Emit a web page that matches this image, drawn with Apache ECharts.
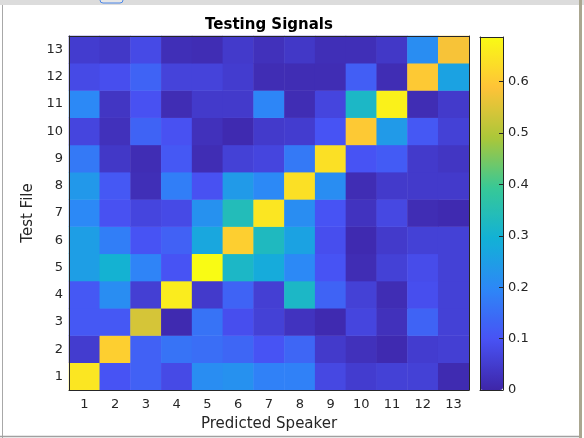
<!DOCTYPE html>
<html>
<head>
<meta charset="utf-8">
<script src="https://cdn.jsdelivr.net/npm/echarts@6/dist/echarts.min.js"></script>
<style>html,body{margin:0;padding:0;background:#fff;}#c{width:584px;height:438px;}</style>
</head>
<body>
<div id="c"></div>
<script>
// Predicted speaker (columns) and test file (rows)
const speakers = ['1','2','3','4','5','6','7','8','9','10','11','12','13'];
const testFiles = ['1','2','3','4','5','6','7','8','9','10','11','12','13'];
const colorbarTicks = [0, 0.1, 0.2, 0.3, 0.4, 0.5, 0.6];
const colorMin = 0;
const colorMax = 0.687;

// one array per test file, values for predicted speakers 1..13
const file1  = [0.65, 0.10, 0.125, 0.08, 0.21, 0.22, 0.185, 0.185, 0.075, 0.05, 0.06, 0.06, 0.012];
const file2  = [0.05, 0.61, 0.125, 0.16, 0.15, 0.135, 0.10, 0.135, 0.045, 0.025, 0.01, 0.05, 0.055];
const file3  = [0.11, 0.11, 0.54, 0.01, 0.16, 0.09, 0.06, 0.03, 0.01, 0.07, 0.025, 0.13, 0.06];
const file4  = [0.11, 0.21, 0.055, 0.66, 0.045, 0.13, 0.055, 0.32, 0.13, 0.06, 0.015, 0.09, 0.06];
const file5  = [0.25, 0.30, 0.19, 0.10, 0.687, 0.32, 0.28, 0.20, 0.10, 0.015, 0.06, 0.085, 0.06];
const file6  = [0.25, 0.18, 0.10, 0.125, 0.27, 0.61, 0.33, 0.26, 0.09, 0.01, 0.045, 0.06, 0.06];
const file7  = [0.20, 0.095, 0.07, 0.08, 0.22, 0.34, 0.65, 0.21, 0.10, 0.03, 0.075, 0.015, 0.01];
const file8  = [0.235, 0.11, 0.02, 0.18, 0.095, 0.24, 0.20, 0.64, 0.21, 0.015, 0.045, 0.045, 0.045];
const file9  = [0.17, 0.04, 0.015, 0.11, 0.015, 0.06, 0.07, 0.17, 0.64, 0.10, 0.115, 0.045, 0.035];
const file10 = [0.07, 0.025, 0.13, 0.095, 0.025, 0.01, 0.045, 0.05, 0.10, 0.60, 0.24, 0.11, 0.06];
const file11 = [0.20, 0.035, 0.095, 0.015, 0.045, 0.045, 0.195, 0.015, 0.07, 0.32, 0.67, 0.015, 0.045];
const file12 = [0.08, 0.09, 0.13, 0.065, 0.065, 0.05, 0.015, 0.015, 0.015, 0.12, 0.015, 0.60, 0.26];
const file13 = [0.05, 0.04, 0.08, 0.02, 0.015, 0.045, 0.025, 0.04, 0.02, 0.02, 0.04, 0.21, 0.58];

const rows = [file1, file2, file3, file4, file5, file6, file7, file8, file9, file10, file11, file12, file13];
const heatData = [];
rows.forEach((row, yi) => row.forEach((v, xi) => heatData.push([xi, yi, v])));

const parula = ['#3E26A8', '#4852F4', '#2D87F7', '#12B1D6', '#37C897', '#ABC739', '#FEC338', '#F9FB14'];
const ink = '#262626';
const font = 'DejaVu Sans';

const chart = echarts.init(document.getElementById('c'), null, {renderer: 'canvas'});
chart.setOption({
  backgroundColor: '#ffffff',
  animation: false,
  textStyle: {fontFamily: font},
  title: {
    text: 'Testing Signals',
    left: 269, top: 18, padding: 0, textAlign: 'center',
    textStyle: {fontFamily: font, fontSize: 15, fontWeight: 'bold', color: '#000'}
  },
  graphic: [
    {type: 'rect', shape: {x: 0, y: 0, width: 584, height: 5}, style: {fill: '#dcdcdc'}, silent: true},
    {type: 'rect', shape: {x: 100, y: -5, width: 23, height: 8, r: 3}, style: {fill: '#e6e6e6', stroke: '#4a86e8', lineWidth: 1}, silent: true},
    {type: 'line', shape: {x1: 2.5, y1: 5, x2: 2.5, y2: 438}, style: {stroke: '#a8a8a8', lineWidth: 1}, silent: true},
    {type: 'rect', shape: {x: 579, y: 0, width: 3, height: 438}, style: {fill: '#aaa690'}, silent: true},
    {type: 'line', shape: {x1: 0, y1: 436.5, x2: 579, y2: 436.5}, style: {stroke: '#a0a0a0', lineWidth: 1.5}, silent: true}
  ],
  grid: [
    {left: 69, top: 36, width: 400, height: 354},
    {left: 480, top: 37, width: 23, height: 353}
  ],
  xAxis: [
    {
      type: 'category', gridIndex: 0, data: speakers, position: 'bottom',
      name: 'Predicted Speaker', nameLocation: 'middle', nameGap: 27,
      nameTextStyle: {fontFamily: font, fontSize: 15, color: ink},
      axisLine: {lineStyle: {color: ink, width: 1}},
      axisTick: {inside: true, alignWithLabel: true, length: 4, lineStyle: {color: ink}},
      axisLabel: {fontFamily: font, fontSize: 13, color: ink, margin: 8},
      splitLine: {show: false}, z: 10
    },
    {
      type: 'category', gridIndex: 0, data: speakers, position: 'top',
      axisLine: {lineStyle: {color: ink, width: 1}},
      axisTick: {inside: true, alignWithLabel: true, length: 4, lineStyle: {color: ink}},
      axisLabel: {show: false}, splitLine: {show: false}, z: 10
    },
    {
      type: 'value', gridIndex: 1, position: 'bottom', min: 0, max: 1,
      axisLine: {onZero: false, lineStyle: {color: ink}}, axisTick: {show: false},
      axisLabel: {show: false}, splitLine: {show: false}, z: 10
    },
    {
      type: 'value', gridIndex: 1, position: 'top', min: 0, max: 1,
      axisLine: {onZero: false, lineStyle: {color: ink}}, axisTick: {show: false},
      axisLabel: {show: false}, splitLine: {show: false}, z: 10
    }
  ],
  yAxis: [
    {
      type: 'category', gridIndex: 0, data: testFiles, position: 'left',
      name: 'Test File', nameLocation: 'middle', nameGap: 26, nameRotate: 90,
      nameTextStyle: {fontFamily: font, fontSize: 15, color: ink},
      axisLine: {lineStyle: {color: ink, width: 1}},
      axisTick: {inside: true, alignWithLabel: true, length: 4, lineStyle: {color: ink}},
      axisLabel: {fontFamily: font, fontSize: 13, color: ink, margin: 6},
      splitLine: {show: false}, z: 10
    },
    {
      type: 'category', gridIndex: 0, data: testFiles, position: 'right',
      axisLine: {lineStyle: {color: ink, width: 1}},
      axisTick: {inside: true, alignWithLabel: true, length: 4, lineStyle: {color: ink}},
      axisLabel: {show: false}, splitLine: {show: false}, z: 10
    },
    {
      type: 'value', gridIndex: 1, position: 'right', min: colorMin, max: colorMax, interval: 0.1,
      axisLine: {onZero: false, lineStyle: {color: ink}},
      axisTick: {inside: true, length: 4, lineStyle: {color: ink}},
      axisLabel: {fontFamily: font, fontSize: 13, color: ink, margin: 5,
        showMaxLabel: false,
        formatter: v => (colorbarTicks.some(t => Math.abs(t - v) < 1e-9) ? String(+v.toFixed(1)) : '')},
      splitLine: {show: false}, z: 10
    },
    {
      type: 'value', gridIndex: 1, position: 'left', min: colorMin, max: colorMax,
      axisLine: {onZero: false, lineStyle: {color: ink}}, axisTick: {show: false},
      axisLabel: {show: false}, splitLine: {show: false}, z: 10
    }
  ],
  visualMap: {
    type: 'continuous', seriesIndex: 0, min: colorMin, max: colorMax,
    show: true, calculable: false, hoverLink: false, realtime: false,
    orient: 'vertical', left: 480, top: 37, padding: 0,
    itemWidth: 23, itemHeight: 353, text: null, showLabel: false,
    inRange: {color: parula}, z: 1
  },
  series: [{
    type: 'heatmap', xAxisIndex: 0, yAxisIndex: 0,
    data: heatData, progressive: 0,
    itemStyle: {borderWidth: 0},
    emphasis: {disabled: true}, label: {show: false}
  }]
});
</script>
</body>
</html>
